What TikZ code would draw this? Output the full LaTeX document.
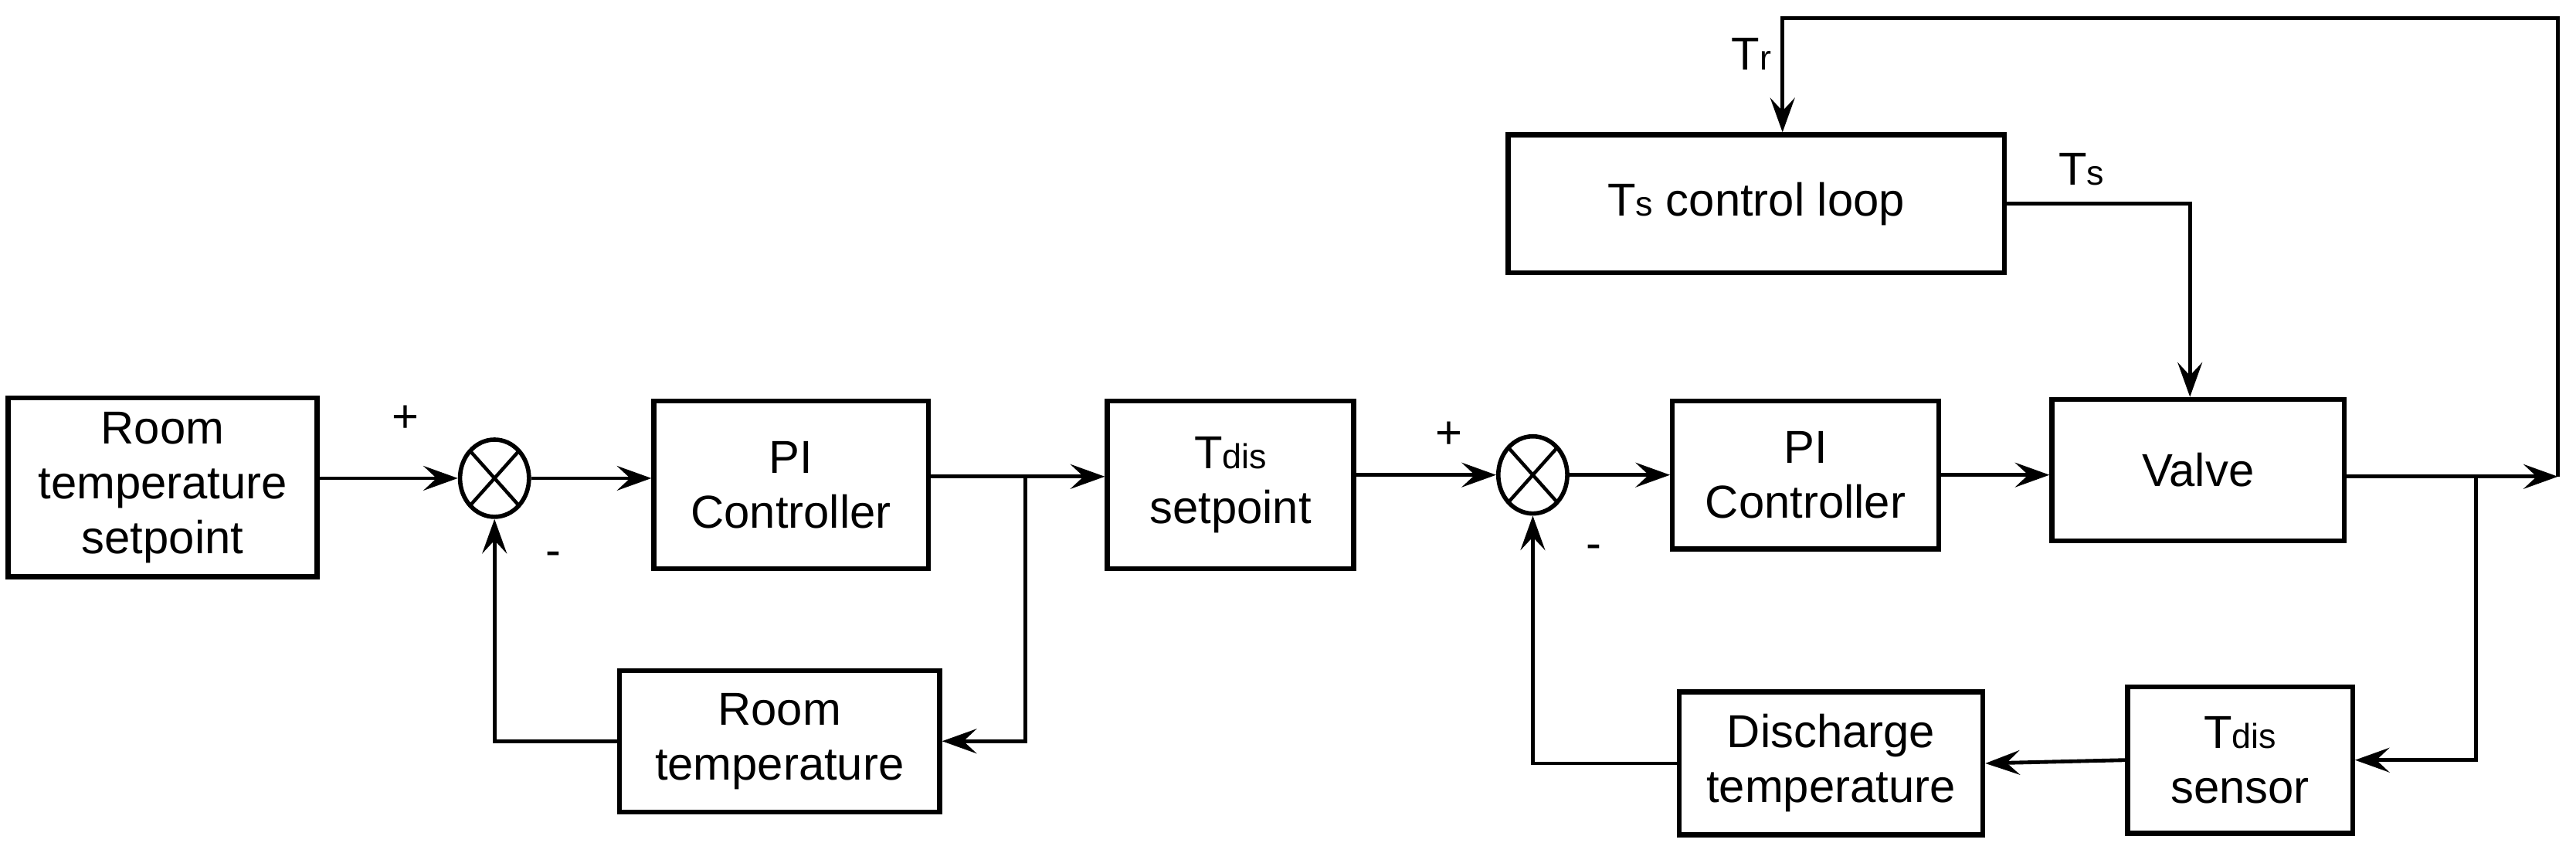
\documentclass[tikz,border=0pt]{standalone}
\usepackage{fontspec}
\setmainfont{Liberation Sans}
\usetikzlibrary{arrows.meta,shapes.geometric}
\newcommand{\sbs}[1]{{\fontsize{12}{12}\selectfont #1}}
\begin{document}
\begin{tikzpicture}[x=0.02cm,y=-0.02cm,
  box/.style={draw,line width=1.7pt,align=center,inner sep=0pt,font=\fontsize{16}{19}\selectfont},
  sum/.style={draw,ellipse,line width=1.5pt,minimum width=0.84cm,minimum height=0.94cm,inner sep=0pt,
    path picture={\draw[line width=1.2pt] (path picture bounding box.south west)--(path picture bounding box.north east)
      (path picture bounding box.north west)--(path picture bounding box.south east);}},
  ln/.style={line width=1.3pt},
  ar/.style={ln,-{Stealth[length=0.42cm,width=0.3cm,inset=0.16cm]}},
  lbl/.style={font=\fontsize{16}{19}\selectfont}]
\useasboundingbox (0,0) rectangle (1568,518.6);
\node[box,minimum width=3.76cm,minimum height=2.18cm] (b1) at (99,296.5) {Room\\temperature\\setpoint};
\node[sum] (s1) at (301,291) {};
\node[box,minimum width=3.34cm,minimum height=2.04cm] (pi1) at (481.5,295) {PI\\Controller};
\node[box,minimum width=3.0cm,minimum height=2.04cm] (td) at (749,295) {T\sbs{dis}\\setpoint};
\node[box,minimum width=3.9cm,minimum height=1.72cm] (rt) at (474.5,451) {Room\\temperature};
\node[sum] (s2) at (933,289) {};
\node[box,minimum width=3.24cm,minimum height=1.8cm] (pi2) at (1099,289) {PI\\Controller};
\node[box,minimum width=3.56cm,minimum height=1.72cm] (va) at (1338,286) {Valve};
\node[box,minimum width=6.04cm,minimum height=1.68cm] (ts) at (1069,124) {T\sbs{s} control loop};
\node[box,minimum width=2.74cm,minimum height=1.78cm] (se) at (1363.5,462.5) {T\sbs{dis}\\sensor};
\node[box,minimum width=3.7cm,minimum height=1.74cm] (dt) at (1114.5,464.5) {Discharge\\temperature};
\node[lbl] (p1) at (247,255) {+};
\node[lbl] (m1) at (337,340) {-};
\node[lbl] (p2) at (882,265) {+};
\node[lbl] (m2) at (970,336) {-};
\node[lbl] (tr) at (1066,33) {T\sbs{r}};
\node[lbl] (tsl) at (1267,103) {T\sbs{s}};
\coordinate (j1) at (624,290);
\coordinate (j2) at (1507,290);
\coordinate (c1) at (1557,290);
\coordinate (top) at (1085,11);
\draw[ar] (b1.east|-s1) -- (s1.west);
\draw[ar] (s1.east) -- (pi1.west|-s1);
\draw[ar] (pi1.east|-j1) -- (td.west|-j1);
\draw[ar] (j1) |- (rt.east);
\draw[ar] (rt.west) -| (s1.south);
\draw[ar] (td.east|-s2) -- (s2.west);
\draw[ar] (s2.east) -- (pi2.west|-s2);
\draw[ar] (pi2.east|-s2) -- (va.west|-s2);
\draw[ar] (va.east|-c1) -- (c1);
\draw[ar] (c1) |- (top) -- (top|-ts.north);
\draw[ar] (ts.east) -| (1333,0|-va.north);
\draw[ar] (j2) |- (se.east);
\draw[ar] (se.west) -- (dt.east);
\draw[ar] (dt.west) -| (s2.south);
\end{tikzpicture}
\end{document}
